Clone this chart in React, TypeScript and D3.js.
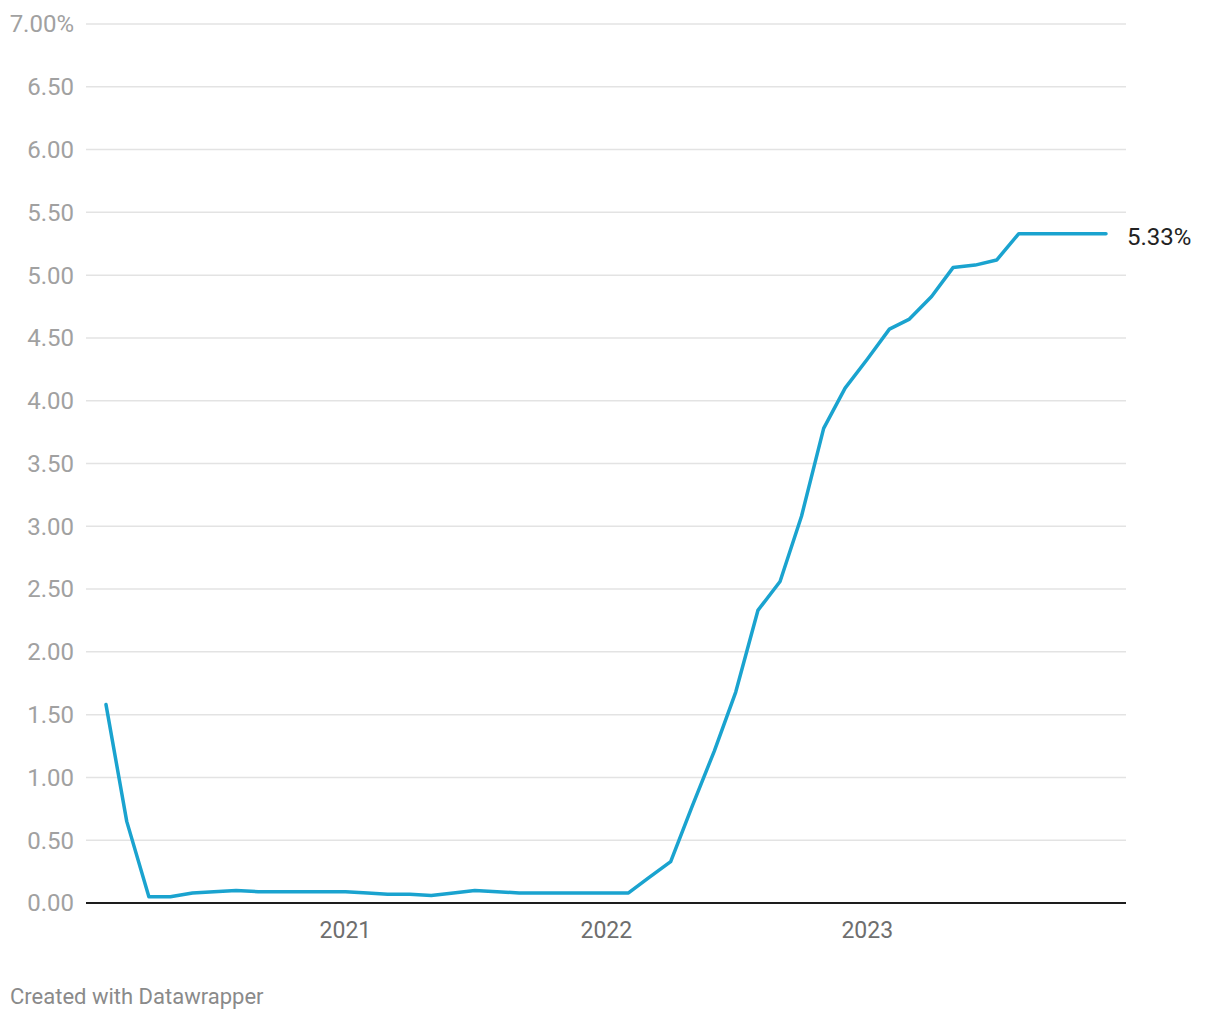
import React from "react";
import * as d3 from "d3";

const months: string[] = [
  "2020-02", "2020-03", "2020-04", "2020-05", "2020-06", "2020-07", "2020-08", "2020-09", "2020-10", "2020-11", "2020-12",
  "2021-01", "2021-02", "2021-03", "2021-04", "2021-05", "2021-06", "2021-07", "2021-08", "2021-09", "2021-10", "2021-11", "2021-12",
  "2022-01", "2022-02", "2022-03", "2022-04", "2022-05", "2022-06", "2022-07", "2022-08", "2022-09", "2022-10", "2022-11", "2022-12",
  "2023-01", "2023-02", "2023-03", "2023-04", "2023-05", "2023-06", "2023-07", "2023-08", "2023-09", "2023-10", "2023-11", "2023-12",
];
const rates: number[] = [
  1.58, 0.65, 0.05, 0.05, 0.08, 0.09, 0.10, 0.09, 0.09, 0.09, 0.09,
  0.09, 0.08, 0.07, 0.07, 0.06, 0.08, 0.10, 0.09, 0.08, 0.08, 0.08, 0.08,
  0.08, 0.08, 0.20, 0.33, 0.77, 1.21, 1.68, 2.33, 2.56, 3.08, 3.78, 4.10,
  4.33, 4.57, 4.65, 4.83, 5.06, 5.08, 5.12, 5.33, 5.33, 5.33, 5.33, 5.33,
];
const yTicks: number[] = [0, 0.5, 1, 1.5, 2, 2.5, 3, 3.5, 4, 4.5, 5, 5.5, 6, 6.5, 7];
const xTickYears: string[] = ["2021", "2022", "2023"];
const footer = "Created with Datawrapper";

const W = 1220;
const H = 1020;
const FONT = "Roboto, 'Noto Sans', sans-serif";

export default function App() {
  const parse = d3.timeParse("%Y-%m");
  const data = months.map((m, i) => ({ date: parse(m) as Date, value: rates[i] }));

  const x = d3
    .scaleTime()
    .domain([data[0].date, data[data.length - 1].date])
    .range([106, 1106]);
  const y = d3.scaleLinear().domain([0, 7]).range([903, 24]);

  const line = d3
    .line<{ date: Date; value: number }>()
    .x((d) => x(d.date))
    .y((d) => y(d.value));

  const gridX0 = 86;
  const gridX1 = 1126;
  const last = data[data.length - 1];

  return (
    <svg
      width={W}
      height={H}
      style={{ position: "absolute", left: 0, top: 0, background: "#fff" }}
      fontFamily={FONT}
    >
      {yTicks.map((t) => (
        <g key={t}>
          {t !== 0 && (
            <line x1={gridX0} x2={gridX1} y1={y(t)} y2={y(t)} stroke="#e3e3e3" strokeWidth={1.5} />
          )}
          <text
            x={74}
            y={y(t)}
            dy="0.35em"
            textAnchor="end"
            fontSize={24}
            fill="#a1a1a1"
          >
            {t === 7 ? "7.00%" : t.toFixed(2)}
          </text>
        </g>
      ))}
      <line x1={gridX0} x2={gridX1} y1={y(0)} y2={y(0)} stroke="#1d1d1d" strokeWidth={2.2} />
      {xTickYears.map((yr) => {
        const d = d3.timeParse("%Y")(yr) as Date;
        return (
          <text key={yr} x={x(d)} y={938} textAnchor="middle" fontSize={23} fill="#6e6e6e">
            {yr}
          </text>
        );
      })}
      <path
        d={line(data) || ""}
        fill="none"
        stroke="#1aa3cf"
        strokeWidth={3.5}
        strokeLinejoin="round"
        strokeLinecap="round"
      />
      <text x={1127} y={y(last.value) + 3} dy="0.35em" fontSize={24} fill="#222">
        {last.value.toFixed(2)}%
      </text>
      <text x={10} y={1004} fontSize={22} fill="#8a8a8a">
        {footer}
      </text>
    </svg>
  );
}
